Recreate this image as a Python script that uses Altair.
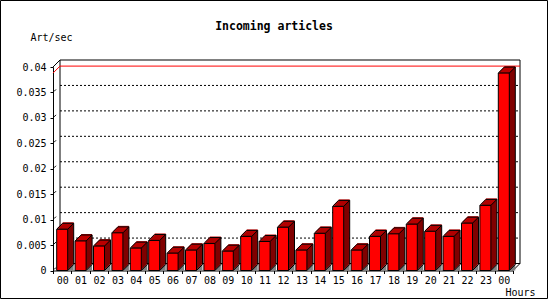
import altair as alt
import pandas as pd

# ---- data ----
hour_labels = ["00", "01", "02", "03", "04", "05", "06", "07", "08", "09", "10", "11",
               "12", "13", "14", "15", "16", "17", "18", "19", "20", "21", "22", "23", "00"]
art_per_sec = [0.0081, 0.0058, 0.0048, 0.0074, 0.0044, 0.0059, 0.0034, 0.0040, 0.0053,
               0.0038, 0.0067, 0.0057, 0.0085, 0.0040, 0.0073, 0.0126, 0.0040, 0.0067,
               0.0072, 0.0091, 0.0077, 0.0067, 0.0093, 0.0128, 0.0388]
y_ticks = [0, 0.005, 0.01, 0.015, 0.02, 0.025, 0.03, 0.035, 0.04]
grid_values = [0.005, 0.01, 0.015, 0.02, 0.025, 0.03, 0.035]

df = pd.DataFrame({"i": list(range(len(art_per_sec))), "v": art_per_sec})
df["z"] = 0.0
grid_df = pd.DataFrame({"v": grid_values})
max_df = pd.DataFrame({"v": [max(art_per_sec)], "top": [0.04], "z": [0.0]})
tick_df = pd.DataFrame({"v": y_ticks})
one = pd.DataFrame({"a": [0]})

# ---- geometry / style ----
W, H = 460, 203.5
D = 7        # depth of back plane
BD = 6       # depth of bars
BW = 11      # bar front width
HB = BW / 2
FONT = "DejaVu Sans Mono"
RED, TOP, SIDE = "#FF0000", "#C00000", "#800000"

label_expr = "[" + ",".join("'%s'" % s for s in hour_labels) + "][datum.value]"

xs = alt.Scale(paddingInner=0, paddingOuter=0)
ys = alt.Scale(domain=[0, 0.04], nice=False, zero=True)

xaxis = alt.Axis(
    labelExpr=label_expr, labelAngle=0, title="Hours", titleX=452, titleY=21.5,
    titleAlign="left", titleBaseline="middle", titleFont=FONT, titleFontSize=10,
    titleFontWeight="normal", titleColor="black", tickBand="extent", tickSize=3,
    tickColor="black", domainColor="black", labelFont=FONT, labelFontSize=10,
    labelColor="black", labelPadding=2, grid=False)
yaxis = alt.Axis(
    values=y_ticks, format="~g", title="Art/sec", titleAngle=0, titleX=-23, titleY=-30,
    titleAlign="left", titleBaseline="middle", titleFont=FONT, titleFontSize=10,
    titleFontWeight="normal", titleColor="black", tickSize=3, tickColor="black",
    domainColor="black", labelFont=FONT, labelFontSize=10, labelColor="black",
    labelPadding=4, grid=False)

X = alt.X("i:O", scale=xs, axis=xaxis)


def Yf(field):
    return alt.Y(field + ":Q", scale=ys, axis=yaxis)


layers = []

# back plane
layers.append(alt.Chart(one).mark_rect(fill="white", stroke="black", strokeWidth=1).encode(
    x=alt.value(D), x2=alt.value(W + D), y=alt.value(-D), y2=alt.value(H - D)))
# dotted grid on back plane
layers.append(alt.Chart(grid_df).mark_rule(color="black", strokeDash=[2, 2], yOffset=-D).encode(
    y=Yf("v"), x=alt.value(D), x2=alt.value(W + D)))
# corner diagonals of the box
layers.append(alt.Chart(max_df).mark_rule(color="black", y2Offset=-D).encode(
    y=Yf("top"), y2="top:Q", x=alt.value(0), x2=alt.value(D)))
layers.append(alt.Chart(max_df).mark_rule(color="black", y2Offset=-D).encode(
    y=Yf("z"), y2="z:Q", x=alt.value(W), x2=alt.value(W + D)))
# small tick slashes on front axis
layers.append(alt.Chart(tick_df).mark_rule(color="black", yOffset=-1, y2Offset=-3).encode(
    y=Yf("v"), y2="v:Q", x=alt.value(1), x2=alt.value(3)))
# red max line
layers.append(alt.Chart(max_df).mark_rule(color=RED, yOffset=-D).encode(
    y=Yf("v"), x=alt.value(D), x2=alt.value(W + D)))
layers.append(alt.Chart(max_df).mark_rule(color=RED, y2Offset=-D).encode(
    y=Yf("v"), y2="v:Q", x=alt.value(0), x2=alt.value(D)))

base = alt.Chart(df)

# gray floor shadow
layers.append(base.mark_bar(color="#808080", size=BD, xOffset=HB + BD / 2, yOffset=-BD).encode(
    x=X, y=Yf("z"), y2="z:Q"))
# side faces (stacked shifted rects)
for k in range(1, BD + 1):
    layers.append(base.mark_bar(color=SIDE, size=BW, xOffset=k, yOffset=-k, y2Offset=-k).encode(
        x=X, y=Yf("v"), y2="z:Q"))
# top faces
for k in range(1, BD + 1):
    layers.append(base.mark_bar(color=TOP, size=BW, xOffset=k, yOffset=-k - 1, y2Offset=-k).encode(
        x=X, y=Yf("v"), y2="v:Q"))
# front faces
layers.append(base.mark_bar(color=RED, size=BW, stroke="black", strokeWidth=1).encode(
    x=X, y=Yf("v"), y2="z:Q"))
# outlines
layers.append(base.mark_rule(color="black", xOffset=-HB, x2Offset=-HB + BD, y2Offset=-BD).encode(
    x=X, x2="i:O", y=Yf("v"), y2="v:Q"))
layers.append(base.mark_rule(color="black", xOffset=HB, x2Offset=HB + BD, y2Offset=-BD).encode(
    x=X, x2="i:O", y=Yf("v"), y2="v:Q"))
layers.append(base.mark_rule(color="black", xOffset=-HB + BD, x2Offset=HB + BD, yOffset=-BD, y2Offset=-BD).encode(
    x=X, x2="i:O", y=Yf("v"), y2="v:Q"))
layers.append(base.mark_rule(color="black", xOffset=HB + BD, yOffset=-BD, y2Offset=-BD).encode(
    x=X, y=Yf("v"), y2="z:Q"))
layers.append(base.mark_rule(color="black", xOffset=HB, x2Offset=HB + BD, y2Offset=-BD).encode(
    x=X, x2="i:O", y=Yf("z"), y2="z:Q"))

# outer frame
layers.append(alt.Chart(one).mark_rect(fillOpacity=0, stroke="black", strokeWidth=1).encode(
    x=alt.value(-52.5), x2=alt.value(494.5), y=alt.value(-66.5), y2=alt.value(231.5)))

chart = alt.layer(*layers).properties(
    width=W, height=H,
    title=alt.TitleParams("Incoming articles", font=FONT, fontSize=11.5, fontWeight="bold",
                          color="black", anchor="middle", dx=-9, offset=-38, baseline="middle"),
    autosize=alt.AutoSizeParams(type="none"),
    padding={"left": 53, "top": 67, "right": 37, "bottom": 29.5},
    background="white",
).configure_view(strokeWidth=0)

chart.save("out.html", embed_options={"renderer": "svg", "actions": False})
